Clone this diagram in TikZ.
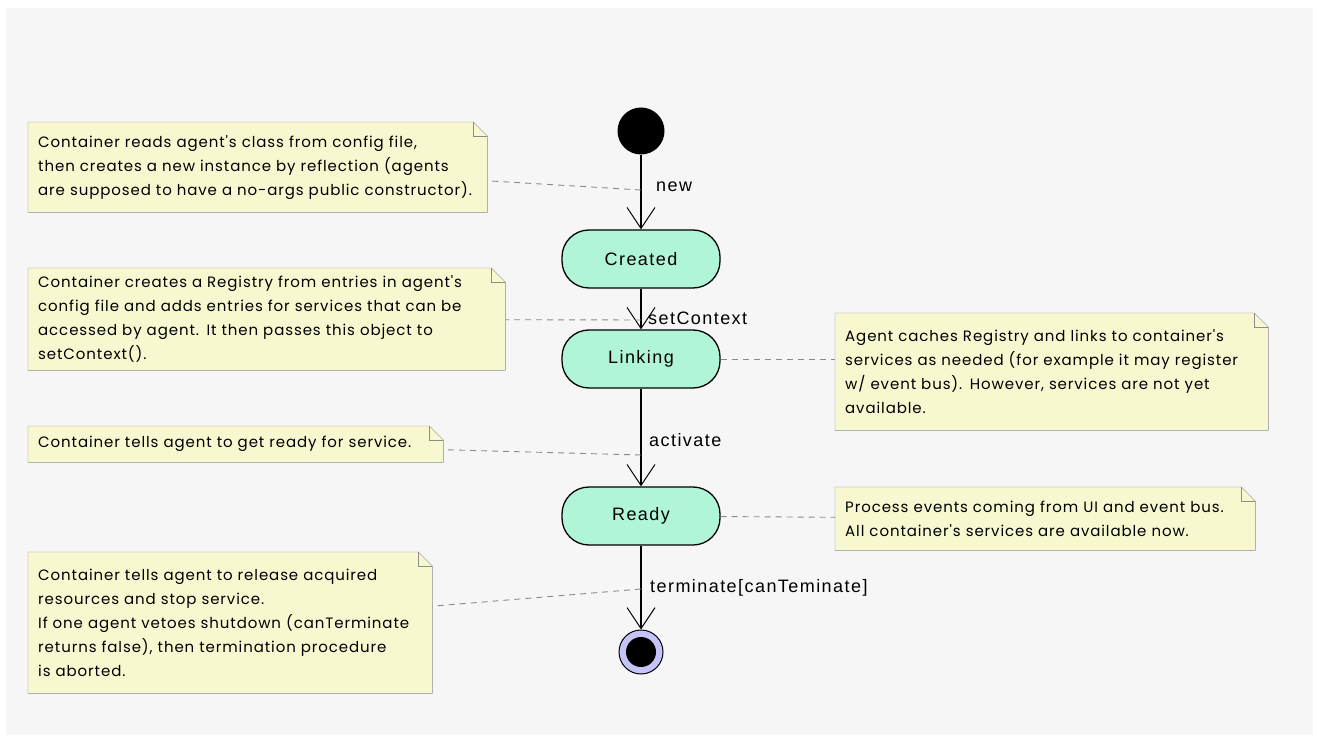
\documentclass[tikz,border=0pt]{standalone}
\usepackage{fontspec}
\setmainfont{Liberation Sans}
\newfontfamily\notefont[LetterSpace=6]{Poppins}
\newfontfamily\labelfont[LetterSpace=8]{Liberation Sans}
\usepackage{tikz}
\usetikzlibrary{arrows.meta,calc}

\definecolor{bggray}{HTML}{F6F6F6}
\definecolor{notefill}{HTML}{F8F8D0}
\definecolor{noteline}{HTML}{8C8C8C}
\definecolor{statefill}{HTML}{B0F5D8}
\definecolor{finalfill}{HTML}{C4C4F8}
\definecolor{linkgray}{HTML}{8A8A8A}

% folded corner of a note
\newcommand{\notefold}[1]{%
  \fill[bggray] ([xshift=-14pt]#1.north east) -- (#1.north east) -- ([yshift=-14pt]#1.north east) -- cycle;
  \draw[noteline] (#1.north west) -- ([xshift=-14pt]#1.north east) -- ([yshift=-14pt]#1.north east)
    -- (#1.south east) -- (#1.south west) -- cycle;
  \draw[noteline] ([xshift=-14pt]#1.north east) -- ([xshift=-14pt,yshift=-14pt]#1.north east)
    -- ([yshift=-14pt]#1.north east);
}

\begin{document}
\begin{tikzpicture}[x=1pt, y=-1pt,
  state/.style={draw=black, line width=1.3pt, fill=statefill, rounded corners=27pt,
    minimum width=158pt, minimum height=58pt, font={\labelfont\fontsize{18}{20}\selectfont}},
  trlabel/.style={anchor=west, inner sep=0pt, font={\labelfont\fontsize{18}{20}\selectfont}},
  trans/.style={line width=1.1pt, -{Straight Barb[length=21pt,width=28pt,line width=1pt]}},
  note/.style={anchor=north west, fill=notefill, align=left, inner xsep=10pt, inner ysep=0pt,
    font={\notefont\fontsize{15}{24}\selectfont}},
  link/.style={linkgray, dash pattern=on 6pt off 5pt, line width=0.9pt}]

  \useasboundingbox (0,0) rectangle (1319,743);
  \fill[bggray] (6,8) rectangle (1313,735);

  % === States ===
  \node[circle, fill=black, minimum size=47pt, inner sep=0pt] (init) at (641,131) {};
  \node[state] (created) at (641,259) {Created};
  \node[state] (linking) at (641,359) {Linking};
  \node[state] (ready) at (641,516) {Ready};
  \node[circle, draw=black, line width=1pt, fill=finalfill, minimum size=44pt, inner sep=0pt] (final) at (641,652) {};
  \node[circle, fill=black, minimum size=30pt, inner sep=0pt] (finaldot) at (final) {};

  % === Transitions ===
  \draw[trans] (init) -- (created);
  \draw[trans] (created) -- (linking);
  \draw[trans] (linking) -- (ready);
  \draw[trans] (ready) -- (final);

  \coordinate (t1) at (641,190);
  \coordinate (t2) at (641,320);
  \coordinate (t3) at (641,455);
  \coordinate (t4) at (641,589);

  \node[trlabel] (lnew) at (656,187) {new};
  \node[trlabel] (lset) at (648,318) {setContext};
  \node[trlabel] (lact) at (649,440) {activate};
  \node[trlabel] (lterm) at (650,588) {terminate[canTeminate]};

  % === Notes ===
  \node[note, text width=439pt, minimum height=90pt] (n1) at (28,122)
    {Container reads agent's class from config file,\\
     then creates a new instance by reflection (agents\\
     are supposed to have a no-args public constructor).};
  \notefold{n1}

  \node[note, text width=457pt, minimum height=102pt] (n2) at (28,268)
    {Container creates a Registry from entries in agent's\\
     config file and adds entries for services that can be\\
     accessed by agent. It then passes this object to\\
     setContext().};
  \notefold{n2}

  \node[note, text width=413pt, minimum height=117pt] (n3) at (835,313)
    {Agent caches Registry and links to container's\\
     services as needed (for example it may register\\
     w/ event bus). However, services are not yet\\
     available.};
  \notefold{n3}

  \node[note, text width=395pt, minimum height=36pt] (n4) at (28,426)
    {Container tells agent to get ready for service.};
  \notefold{n4}

  \node[note, text width=400pt, minimum height=63pt] (n5) at (835,487)
    {Process events coming from UI and event bus.\\
     All container's services are available now.};
  \notefold{n5}

  \node[note, text width=384pt, minimum height=141pt] (n6) at (28,552)
    {Container tells agent to release acquired\\
     resources and stop service.\\
     If one agent vetoes shutdown (canTerminate\\
     returns false), then termination procedure\\
     is aborted.};
  \notefold{n6}

  % === Note links ===
  \draw[link] (t1) -- (n1);
  \draw[link] (t2) -- (n2);
  \draw[link] (linking) -- (linking -| n3.west);
  \draw[link] (t3) -- (n4);
  \draw[link] (ready) -- (n5);
  \draw[link] (t4) -- (n6);

\end{tikzpicture}
\end{document}
